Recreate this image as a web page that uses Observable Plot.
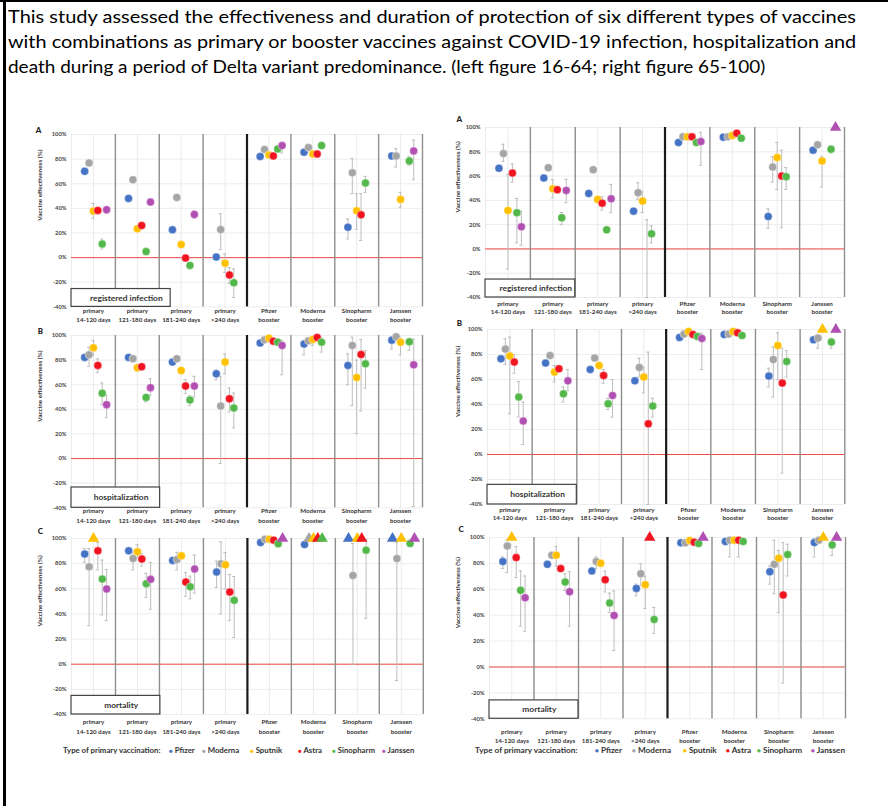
<!DOCTYPE html>
<html><head><meta charset="utf-8">
<script src="https://cdn.jsdelivr.net/npm/d3@7"></script>
<script src="https://cdn.jsdelivr.net/npm/@observablehq/plot@0.6"></script>
<style>
body{margin:0;background:#fff;}
#page{position:relative;width:888px;height:806px;overflow:hidden;background:#fff;font-family:Lato,"Open Sans",sans-serif;color:#111;}
.hline{position:absolute;white-space:nowrap;color:#000;}
.leg{position:absolute;white-space:nowrap;font-weight:700;color:#333;}
</style></head><body><div id="page"></div>
<script>
// ---------- text ----------
const headerLines = [
  "This study assessed the effectiveness and duration of protection of six different types of vaccines",
  "with combinations as primary or booster vaccines against COVID-19 infection, hospitalization and",
  "death during a period of Delta variant predominance. (left figure 16-64; right figure 65-100)"
];
const headerWidths = [850, 850, 758];
const catLine1 = ["primary","primary","primary","primary","Pfizer","Moderna","Sinopharm","Janssen"];
const catLine2 = ["14-120 days","121-180 days","181-240 days",">240 days","booster","booster","booster","booster"];
const series = ["Pfizer","Moderna","Sputnik","Astra","Sinopharm","Janssen"];
const seriesColors = ["#4472C4","#A5A5A5","#FFC000","#F01420","#52B84A","#B24FB2"];
const yTicks = [-40,-20,0,20,40,60,80,100];
const legendTitle = "Type of primary vaccination:";

// ---------- data: rows = series (Pfizer..Janssen), columns = categories ----------
// A: registered infection, age 16-64
const infYoungVE = [
  [70.1,48.1,22.6,0.5,82.1,85.6,24.7,82.6],
  [76.9,63.3,48.9,22.8,87.8,89.4,69.0,82.6],
  [37.8,23.4,10.6,-4.6,83.4,84.2,38.0,47.3],
  [38.3,26.1,-0.3,-14.1,82.6,84.2,34.8,null],
  [11.1,4.9,-6.3,-20.4,88.3,91.0,60.6,78.5],
  [38.9,45.1,35.1,null,91.0,null,null,86.7]];
const infYoungLo = [
  [null,null,null,null,null,null,15.2,null],
  [null,null,null,6.5,null,null,51.9,73.6],
  [32,null,null,-12,null,null,23,41],
  [null,null,null,-21,null,null,13.9,null],
  [7,null,null,-32.3,null,null,53,75],
  [36,null,32,null,85,null,null,63.3]];
const infYoungHi = [
  [null,null,null,null,null,null,31.5,null],
  [null,null,null,35.6,null,null,80.4,88.6],
  [44,null,null,3,null,null,52,53],
  [null,null,null,-8,null,null,52,null],
  [15,null,null,-9.2,null,null,66,82],
  [41,null,38,null,93,null,null,95.4]];
// B: hospitalization, age 16-64
const hospYoungVE = [
  [82.2,82.2,78.4,68.9,94.0,93.0,75.7,96.2],
  [84.3,81.1,81.1,42.7,96.5,95.7,91.9,98.9],
  [90.0,73.8,71.6,78.4,97.8,96.8,65.9,94.6],
  [75.7,74.6,58.9,48.6,95.4,98.4,84.6,null],
  [53.0,49.7,47.6,41.1,94.6,94.6,77.0,94.9],
  [43.8,57.6,58.9,null,91.9,null,null,76.2]];
const hospYoungLo = [
  [null,null,null,64,null,84.3,60,89],
  [75,null,null,-4,null,null,43.2,null],
  [84,71,null,69,null,92,20.3,84.3],
  [70,null,53,37.8,null,null,38.6,null],
  [43.8,46,43,24.9,null,86.5,57.3,88],
  [33.2,51.4,50,null,68.1,null,null,-39]];
const hospYoungHi = [
  [null,null,null,72,null,96,85,99],
  [90.5,null,null,66.8,null,null,98.6,null],
  [96,75,null,85,null,99,80,98],
  [81,null,64,57.3,null,null,96.8,null],
  [61.4,52,51,53.2,null,98,87.8,97],
  [51.4,64.9,66.8,null,96,null,null,97]];
// C: mortality, age 16-64
const mortYoungVE = [
  [87.6,90.2,82.5,73.3,96.8,95.2,100,100],
  [77.5,84.1,83.3,79.9,99.5,100,70.6,84.0],
  [100,89.4,86.2,79.1,99.5,100,100,100],
  [90.2,83.6,65.3,57.4,98.7,100,100,null],
  [67.7,64.0,61.6,50.8,95.8,100,90.7,96.0],
  [59.8,67.5,75.7,null,100,null,null,100]];
const mortYoungLo = [
  [81,null,null,61,null,68.3,null,null],
  [30.7,75,75,40,null,null,0,-13],
  [null,85,null,59.8,null,null,null,null],
  [75,78,54,34.7,null,null,null,null],
  [39.2,53.2,52,21.2,null,null,36.5,70],
  [34.7,43.7,56.6,null,null,null,null,null]];
const mortYoungHi = [
  [92,null,null,82,null,null,null,null],
  [92,90,89,97.4,null,null,96,97],
  [null,95,null,88.9,null,null,null,null],
  [97,88,73,71.4,null,null,null,null],
  [82.8,72.2,70,69.8,null,null,99,null],
  [75.4,81,86.8,null,null,null,null,null]];
// A: registered infection, age 65-100
const infOldVE = [
  [66.4,58.4,45.7,31.1,87.6,92.0,26.7,81.3],
  [78.5,66.9,65.3,46.3,92.3,92.3,67.5,85.7],
  [31.7,49.6,40.8,39.4,92.3,93.4,75.2,72.5],
  [62.5,48.8,37.7,null,92.3,95.3,60.0,null],
  [29.8,25.6,15.7,12.4,87.6,91.2,59.5,82.1],
  [18.2,48.2,41.3,null,88.4,null,null,100]];
const infOldLo = [
  [null,null,null,null,null,null,17,null],
  [72,null,null,41,null,null,55,null],
  [-16.5,42,null,30,null,null,49,51],
  [55,null,32,-40,null,null,17.4,null],
  [5,20,null,5,null,null,49,79],
  [3,38,29.8,null,68.9,null,null,null]];
const infOldHi = [
  [null,null,null,null,null,null,33,null],
  [86.2,null,null,54.5,null,null,76,null],
  [61.4,57,null,47,null,null,87.6,76],
  [70,null,43,24,null,null,81.3,null],
  [41.6,30,null,19,null,null,67,85],
  [31,57.3,53.2,null,96,null,null,null]];
// B: hospitalization, age 65-100
const hospOldVE = [
  [76.5,73.1,68.0,58.9,93.6,96.0,62.7,91.7],
  [84.3,79.2,77.1,69.6,96.3,96.3,76.0,93.1],
  [78.7,65.9,71.2,61.9,98.4,98.4,87.2,100],
  [73.9,68.5,63.2,24.5,96.0,97.3,57.1,null],
  [45.9,48.5,40.5,38.7,94.4,95.2,74.4,89.9],
  [26.7,58.9,47.2,null,92.8,null,null,100]];
const hospOldLo = [
  [null,null,null,null,null,null,54,null],
  [72,null,null,62,null,null,45.9,85],
  [32.5,58,null,49.3,null,null,60,null],
  [65,null,57,-40,null,null,-14.9,null],
  [29.9,42,36,30,null,null,62,85],
  [8,51,29.9,null,68,null,null,null]];
const hospOldHi = [
  [null,null,null,null,null,null,69,null],
  [92.5,null,null,77,null,null,86,96],
  [93.9,71,null,70,null,null,97.3,null],
  [80,null,68,81.9,null,null,85,null],
  [58.4,54,45,45,null,null,83,93],
  [41.9,68,60,null,97,null,null,null]];
// C: mortality, age 65-100
const mortOldVE = [
  [81.4,79.3,74.2,60.7,95.9,96.9,73.6,96.1],
  [93.5,86.3,81.4,72.1,95.9,97.9,79.3,97.9],
  [100,86.3,80.1,63.6,97.7,97.9,84.0,100],
  [84.5,76.0,67.4,100,96.4,97.9,55.6,null],
  [59.2,65.6,49.4,36.7,95.3,96.9,86.8,94.3],
  [53.5,58.1,39.8,null,100,null,null,100]];
const mortOldLo = [
  [76,null,null,55,null,null,64,85],
  [72.9,null,76,63,null,85,56.6,null],
  [null,78,null,45.2,null,null,42,null],
  [69,null,58,null,null,85,-12.4,null],
  [31.5,59,42,26,null,null,70.3,86],
  [27.6,31.5,12.7,null,null,null,null,null]];
const mortOldHi = [
  [85,null,null,64,null,null,78,99],
  [98,null,85,79.8,null,99,97.9,null],
  [null,93,null,70,null,null,90,null],
  [93,null,74,null,null,99,96,null],
  [74.2,72,57,46,null,null,94.8,97],
  [70.3,73.6,58.7,null,null,null,null,null]];

// ---------- page ----------
const page = document.getElementById("page");
function addDiv(css, html) { const d = document.createElement("div"); d.style.cssText = css; if (html) d.innerHTML = html; page.appendChild(d); return d; }
addDiv("position:absolute;left:0;top:0;width:888px;height:2px;background:#000;");
addDiv("position:absolute;left:3px;top:0;width:2.5px;height:806px;background:#000;");

const ctx = document.createElement("canvas").getContext("2d");
const hSize = 17.4;
ctx.font = `${hSize}px Lato`;
headerLines.forEach((t, i) => {
  const natural = ctx.measureText(t).width;
  const sx = headerWidths[i] / natural;
  const d = addDiv(`left:8px;top:${18 + 25 * i - hSize * 0.64}px;font-size:${hSize}px;line-height:1.2;transform-origin:0 0;transform:scaleX(${sx});`);
  d.className = "hline"; d.textContent = t;
});

const primaryCount = 4;
const nCat = catLine1.length;
const slot = i => 0.3 + 0.1 * i;           // position of a series inside a column

function panel(cfg) {
  const rows = [];
  series.forEach((s, si) => catLine1.forEach((c, ci) => {
    rows.push({series: s, x: ci + slot(si), est: cfg.ve[si][ci], lo: cfg.lo[si][ci], hi: cfg.hi[si][ci]});
  }));
  const bars = rows.filter(d => d.lo != null && d.hi != null);
  const caps = bars.flatMap(d => [{x: d.x, y: d.lo}, {x: d.x, y: d.hi}]);
  const mL = 48, mT = 20, mR = 6, mB = 34;
  const fw = cfg.right - cfg.left, fh = cfg.bottom - cfg.top;
  const dividers = d3.range(1, nCat + 1).filter(d => d !== primaryCount);
  const p = Plot.plot({
    width: fw + mL + mR, height: fh + mT + mB,
    marginLeft: mL, marginTop: mT, marginRight: mR, marginBottom: mB,
    style: {background: "transparent", overflow: "visible", fontFamily: "Lato, sans-serif", fontSize: "5.8px", fontWeight: "700", color: "#444"},
    x: {domain: [0, nCat], axis: null},
    y: {domain: [yTicks[0], yTicks[yTicks.length - 1]], ticks: yTicks, tickFormat: d => d + "%", tickSize: 0, tickPadding: 5, label: null, grid: true},
    color: {domain: series, range: seriesColors},
    marks: [
      Plot.ruleX(d3.range(0, nCat + 0.01, 0.5), {stroke: "#e6e6e6", strokeWidth: 0.8}),
      Plot.ruleY([0], {stroke: "#ec4a44", strokeWidth: 1}),
      Plot.ruleX(dividers, {stroke: "#8f8f8f", strokeWidth: 1.4}),
      Plot.ruleX([primaryCount], {stroke: "#1a1a1a", strokeWidth: 2.2}),
      Plot.rect([cfg.label], {x1: () => 0, x2: () => cfg.boxCols, y1: () => yTicks[0], y2: () => cfg.boxTop, fill: "white", stroke: "#444", strokeWidth: 1.2}),
      Plot.text([cfg.label], {x: () => cfg.boxCols / 2 + 0.12, y: () => (yTicks[0] + cfg.boxTop) / 2, fontSize: 8.4, fontWeight: 700, fill: "#333"}),
      Plot.ruleX(bars, {x: "x", y1: "lo", y2: "hi", stroke: "#bdbdbd", strokeWidth: 1}),
      Plot.ruleY(caps, {x1: d => d.x - 0.035, x2: d => d.x + 0.035, y: "y", stroke: "#bdbdbd", strokeWidth: 1}),
      Plot.dot(rows.filter(d => d.est != null && d.est < 100), {x: "x", y: "est", fill: "series", r: 4, stroke: "white", strokeWidth: 0.4}),
      Plot.dot(rows.filter(d => d.est === 100), {x: "x", y: "est", fill: "series", symbol: "triangle", r: 4.2}),
      Plot.text(catLine1, {x: (d, i) => i + 0.5, frameAnchor: "bottom", dy: cfg.lab1, fontSize: 6.2, fontWeight: 700, fill: "#333"}),
      Plot.text(catLine2, {x: (d, i) => i + 0.5, frameAnchor: "bottom", dy: cfg.lab1 + cfg.labGap, fontSize: 6.2, fontWeight: 700, fill: "#333"}),
      Plot.text([cfg.letter], {frameAnchor: "top-left", dx: cfg.letterX - cfg.left, dy: cfg.letterY - cfg.top, fontSize: 8, fontWeight: 900, fill: "#222"}),
      Plot.text(["Vaccine effectiveness (%)"], {frameAnchor: "left", rotate: -90, dx: cfg.ylabX - cfg.left, fontSize: 6.4, fontWeight: 700, fill: "#333"})
    ]
  });
  p.style.position = "absolute";
  p.style.left = (cfg.left - mL) + "px";
  p.style.top = (cfg.top - mT) + "px";
  page.appendChild(p);
}

panel({ve: infYoungVE, lo: infYoungLo, hi: infYoungHi, label: "registered infection", letter: "A",
  left: 70.7, right: 421.7, top: 134.3, bottom: 306.7, boxCols: 2.26, boxTop: -25.5, lab1: 6, labGap: 9.5, letterX: 35, letterY: 127, ylabX: 39});
panel({ve: hospYoungVE, lo: hospYoungLo, hi: hospYoungHi, label: "hospitalization", letter: "B",
  left: 70.7, right: 421.7, top: 335, bottom: 507.3, boxCols: 2.02, boxTop: -23.5, lab1: 5.5, labGap: 9.5, letterX: 37, letterY: 328, ylabX: 39});
panel({ve: mortYoungVE, lo: mortYoungLo, hi: mortYoungHi, label: "mortality", letter: "C",
  left: 70.7, right: 422.5, top: 538.3, bottom: 714.3, boxCols: 2.02, boxTop: -25.2, lab1: 10, labGap: 9.5, letterX: 37, letterY: 528, ylabX: 39});
panel({ve: infOldVE, lo: infOldLo, hi: infOldHi, label: "registered infection", letter: "A",
  left: 485, right: 844, top: 126.7, bottom: 296.7, boxCols: 2.0, boxTop: -25.2, lab1: 8, labGap: 8.5, letterX: 456, letterY: 116, ylabX: 457});
panel({ve: hospOldVE, lo: hospOldLo, hi: hospOldHi, label: "hospitalization", letter: "B",
  left: 486.7, right: 844, top: 329, bottom: 504, boxCols: 2.0, boxTop: -24.3, lab1: 8, labGap: 7.5, letterX: 456, letterY: 320, ylabX: 457});
panel({ve: mortOldVE, lo: mortOldLo, hi: mortOldHi, label: "mortality", letter: "C",
  left: 489, right: 845, top: 536.7, bottom: 718, boxCols: 2.0, boxTop: -25.8, lab1: 15, labGap: 9, letterX: 458, letterY: 526, ylabX: 457});

// ---------- legends ----------
function legend(y, titleX, itemXs, size) {
  const t = addDiv(`top:${y - size * 0.7}px;left:${titleX}px;font-size:${size}px;`); t.className = "leg"; t.textContent = legendTitle;
  series.forEach((s, i) => {
    const d = addDiv(`top:${y - size * 0.7}px;left:${itemXs[i]}px;font-size:${size}px;`);
    d.className = "leg";
    d.innerHTML = `<span style="color:${seriesColors[i]};font-size:${size * 0.8}px">●</span> ${s}`;
  });
}
legend(750, 63, [169, 202, 250, 298, 332, 382], 7.8);
legend(751, 475, [595, 632, 683, 726, 757, 811], 8.2);
</script>
</body></html>
